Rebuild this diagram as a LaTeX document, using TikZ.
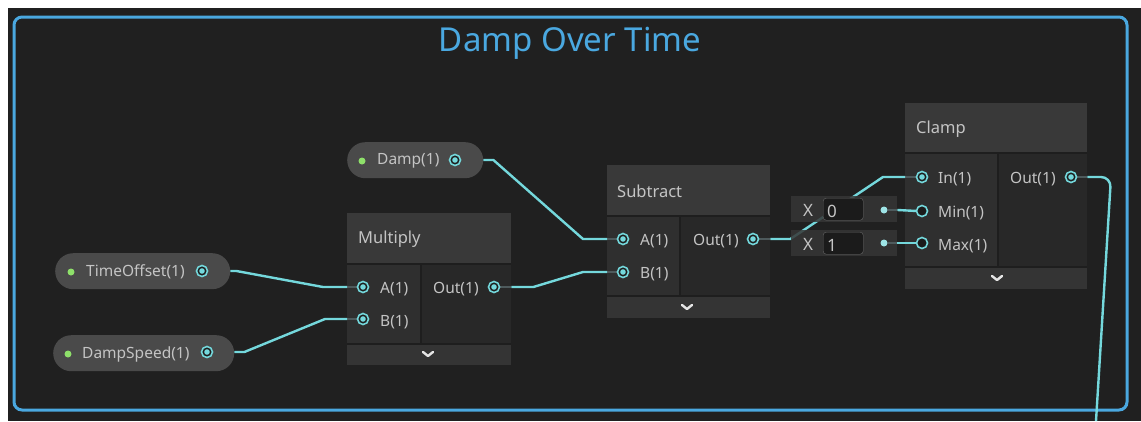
\documentclass[tikz,border=0pt]{standalone}
\usepackage{fontspec}
\setmainfont{Noto Sans}
\definecolor{bg}{HTML}{202020}
\definecolor{frameblue}{HTML}{4AA8E0}
\definecolor{wire}{HTML}{74D8DC}
\definecolor{pillc}{HTML}{4A4A4A}
\definecolor{headc}{HTML}{393939}
\definecolor{incol}{HTML}{2F2F2F}
\definecolor{outcol}{HTML}{282828}
\definecolor{footc}{HTML}{343434}
\definecolor{gapc}{HTML}{1E1E1E}
\definecolor{txt}{HTML}{C4C4C4}
\definecolor{greendot}{HTML}{8EE06A}
\definecolor{stubc}{HTML}{4E5A5C}
\definecolor{fieldc}{HTML}{1B1B1B}
\definecolor{valbox}{HTML}{363636}
\tikzset{
  wirestyle/.style={draw=wire, line width=2.4, line join=round},
  stubstyle/.style={draw=stubc, line width=2.4},
  port/.style={circle, minimum size=11, inner sep=0, draw=wire, line width=1.6, fill=gapc,
    path picture={\fill[wire] (path picture bounding box.center) circle (2.8);}},
  hollowport/.style={circle, minimum size=11, inner sep=0, draw=wire, line width=1.6, fill=fieldc},
  pill/.style={rounded corners=18, fill=pillc, inner sep=0, anchor=north west},
  pilltext/.style={text=txt, font=\fontsize{15.5}{18}\selectfont, anchor=west, inner sep=0},
  headtext/.style={text=txt, font=\fontsize{16.5}{19}\selectfont, anchor=west, inner sep=0},
  lbl/.style={text=txt, font=\fontsize{15.5}{18}\selectfont, anchor=west, inner sep=0},
  vallbl/.style={text=txt, font=\fontsize{17}{19}\selectfont, anchor=west, inner sep=0},
  gdot/.style={circle, fill=greendot, minimum size=7, inner sep=0},
  vdot/.style={circle, fill=wire!70!white, minimum size=7, inner sep=0},
  chev/.style={draw=white!90!black, line width=2.4, line cap=round, line join=round},
}
\begin{document}
\begin{tikzpicture}[x=1pt, y=-1pt]
\useasboundingbox (0,0) rectangle (1141,421);
\fill[white] (0,0) rectangle (1141,421);
\fill[bg] (8,8) rectangle (1141,421);
% group frame
\draw[frameblue, line width=3, rounded corners=8] (14,17) rectangle (1127,410);
\node[text=frameblue, font=\fontsize{33}{38}\selectfont, inner sep=0] (title) at (570,43) {Damp Over Time};

% ---------- property pills
\node[pill, minimum width=175, minimum height=36] (to) at (55,253) {};
\node[gdot] (todot) at (71,272) {};
\node[pilltext] (totext) at (86,272) {TimeOffset(1)};
\node[port] (toP) at (202,271) {};

\node[pill, minimum width=181, minimum height=36] (ds) at (53,335) {};
\node[gdot] (dsdot) at (68,354) {};
\node[pilltext] (dstext) at (82,354) {DampSpeed(1)};
\node[port] (dsP) at (207,352) {};

\node[pill, minimum width=136, minimum height=36] (damp) at (347,142) {};
\node[gdot] (dampdot) at (362,161) {};
\node[pilltext] (damptext) at (377,161) {Damp(1)};
\node[port] (dampP) at (455,160) {};

% ---------- Multiply
\node[fill=gapc, inner sep=0, minimum width=164, minimum height=152, anchor=north west] (mul) at (347,213) {};
\fill[headc] (347,213) rectangle (511,263);
\fill[incol] (347,265) rectangle (420,343);
\fill[outcol] (422,265) rectangle (511,343);
\fill[footc] (347,345) rectangle (511,365);
\node[headtext] (multitle) at (358,239) {Multiply};
\node[lbl] (mulAl) at (380,289) {A(1)};
\node[lbl] (mulBl) at (380,322) {B(1)};
\node[lbl] (mulOl) at (433,289) {Out(1)};
\draw[chev] (423,352) -- (428,356) -- (433,352);

% ---------- Subtract
\node[fill=gapc, inner sep=0, minimum width=163, minimum height=153, anchor=north west] (sub) at (607,165) {};
\fill[headc] (607,165) rectangle (770,215);
\fill[incol] (607,217) rectangle (679,295);
\fill[outcol] (681,217) rectangle (770,295);
\fill[footc] (607,297) rectangle (770,318);
\node[headtext] (subtitle) at (617,191) {Subtract};
\node[lbl] (subAl) at (640,241) {A(1)};
\node[lbl] (subBl) at (640,274) {B(1)};
\node[lbl] (subOl) at (693,241) {Out(1)};
\draw[chev] (682,305) -- (687,309) -- (692,305);

% ---------- Clamp
\node[fill=gapc, inner sep=0, minimum width=182, minimum height=186, anchor=north west] (clamp) at (905,103) {};
\fill[headc] (905,103) rectangle (1087,152);
\fill[incol] (905,154) rectangle (997,266);
\fill[outcol] (999,154) rectangle (1087,266);
\fill[footc] (905,268) rectangle (1087,289);
\node[headtext] (clamptitle) at (916,129) {Clamp};
\node[lbl] (clInl) at (938,179) {In(1)};
\node[lbl] (clMinl) at (938,213) {Min(1)};
\node[lbl] (clMaxl) at (938,246) {Max(1)};
\node[lbl] (clOutl) at (1010,179) {Out(1)};
\draw[chev] (992,276) -- (997,280) -- (1002,276);

% ---------- port nodes (positions)
\coordinate (mulAc) at (363,287);
\coordinate (mulBc) at (363,319);
\coordinate (mulOc) at (494,287);
\coordinate (subAc) at (623,239);
\coordinate (subBc) at (623,272);
\coordinate (subOc) at (753,239);
\coordinate (clInc) at (922,177);
\coordinate (clMinc) at (922,211);
\coordinate (clMaxc) at (922,243);
\coordinate (clOutc) at (1071,177);
\coordinate (offpage) at (1096,421);

% ---------- stubs inside nodes
\draw[stubstyle] (mulAc -| mul.west) -- (mulAc);
\draw[stubstyle] (mulBc -| mul.west) -- (mulBc);
\draw[stubstyle] (mulOc) -- (mulOc -| mul.east);
\draw[stubstyle] (subAc -| sub.west) -- (subAc);
\draw[stubstyle] (subBc -| sub.west) -- (subBc);
\draw[stubstyle] (subOc) -- (subOc -| sub.east);
\draw[stubstyle] (clInc -| clamp.west) -- (clInc);
\draw[stubstyle] (clOutc) -- (clOutc -| clamp.east);

% ---------- wires
\draw[wirestyle] (damp.east |- dampP) -- ++(10,0) -- ([xshift=-40]subAc) -- (subAc -| sub.west);
\draw[wirestyle] (to.east |- toP) -- ++(6,0) -- ([xshift=-40]mulAc) -- (mulAc -| mul.west);
\draw[wirestyle] (ds.east |- dsP) -- ++(10,0) -- ([xshift=-38]mulBc) -- (mulBc -| mul.west);
\draw[wirestyle] (mulOc -| mul.east) -- ++(22,0) -- ([xshift=-40]subBc) -- (subBc -| sub.west);
\draw[wirestyle] (subOc -| sub.east) -- ++(20,0) -- ([xshift=-39]clInc) -- (clInc -| clamp.west);
\draw[wirestyle, rounded corners=10] (clOutc -| clamp.east) -- (1111,177) -- (offpage);

% ---------- inline value fields
\node[fill=valbox, fill opacity=0.85, inner sep=0, minimum width=106, minimum height=26, anchor=north west] (v0) at (791,196) {};
\node[fill=fieldc, draw=black!60, rounded corners=3, inner sep=0, minimum width=40, minimum height=22, anchor=north west] (f0) at (823,198) {};
\node[vallbl, anchor=center] (x0) at (808,210) {X};
\node[vallbl] (val0) at (827,211) {0};
\node[vdot] (d0) at (884,210) {};
\node[fill=valbox, fill opacity=0.85, inner sep=0, minimum width=106, minimum height=26, anchor=north west] (v1) at (791,230) {};
\node[fill=fieldc, draw=black!60, rounded corners=3, inner sep=0, minimum width=40, minimum height=22, anchor=north west] (f1) at (823,232) {};
\node[vallbl, anchor=center] (x1) at (808,244) {X};
\node[vallbl] (val1) at (827,245) {1};
\node[vdot] (d1) at (884,243) {};
\draw[stubstyle, line width=2] (d0) -- (v0.east |- d0);
\draw[stubstyle, line width=2] (d1) -- (v1.east |- d1);
\draw[wirestyle] (v0.east |- d0) -- ([xshift=-5]clMinc);
\draw[wirestyle] (v1.east |- d1) -- ([xshift=-5]clMaxc);

% ---------- ports on top
\node[port] (mulA) at (mulAc) {};
\node[port] (mulB) at (mulBc) {};
\node[port] (mulOut) at (mulOc) {};
\node[port] (subA) at (subAc) {};
\node[port] (subB) at (subBc) {};
\node[port] (subOut) at (subOc) {};
\node[port] (clIn) at (clInc) {};
\node[hollowport] (clMin) at (clMinc) {};
\node[hollowport] (clMax) at (clMaxc) {};
\node[port] (clOut) at (clOutc) {};
\end{tikzpicture}
\end{document}
